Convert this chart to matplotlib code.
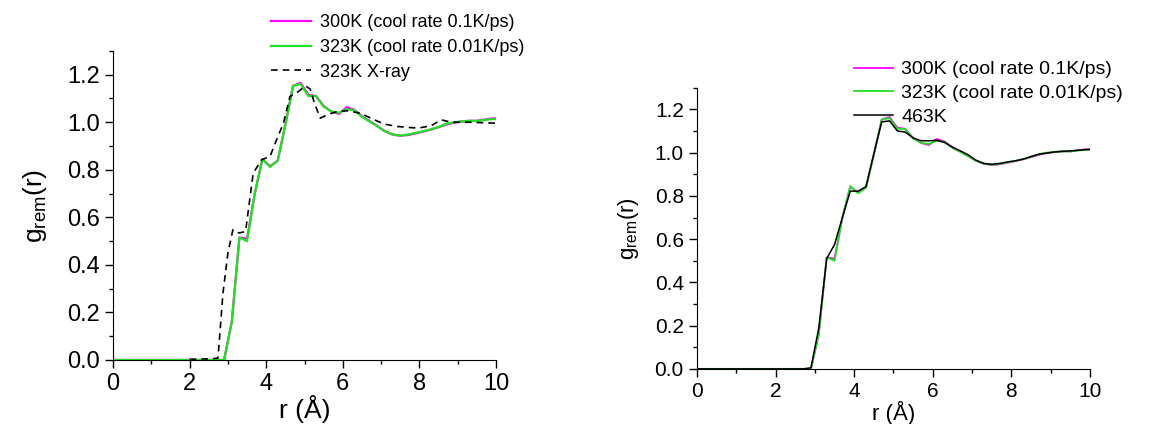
import matplotlib
matplotlib.use("Agg")
import matplotlib.pyplot as plt
from matplotlib.ticker import MultipleLocator, FormatStrFormatter

plt.rcParams['font.family'] = ['Liberation Sans', 'DejaVu Sans']
plt.rcParams['mathtext.default'] = 'regular'

# Simulated partial pair distribution (shared r grid, Å)
r_sim = [0.0, 0.5, 1.0, 1.5, 2.0, 2.5, 2.7, 2.9, 3.1, 3.3, 3.5, 3.7, 3.9, 4.1, 4.3,
         4.5, 4.7, 4.9, 5.1, 5.3, 5.5, 5.7, 5.9, 6.1, 6.3, 6.5, 6.7, 6.9, 7.1,
         7.3, 7.5, 7.7, 7.9, 8.1, 8.3, 8.5, 8.7, 8.9, 9.1, 9.3, 9.5, 9.7, 9.9, 10.0]

g_300K = [0.0, 0.0, 0.0, 0.0, 0.0, 0.0, 0.0, 0.0, 0.16, 0.515, 0.51, 0.70, 0.843, 0.815, 0.838,
          0.99, 1.153, 1.165, 1.115, 1.11, 1.068, 1.045, 1.035, 1.063, 1.052, 1.025, 1.005, 0.984, 0.962,
          0.948, 0.943, 0.946, 0.953, 0.961, 0.969, 0.979, 0.990, 0.998, 1.003, 1.006, 1.006, 1.011, 1.016, 1.016]

g_323K = [0.0, 0.0, 0.0, 0.0, 0.0, 0.0, 0.0, 0.0, 0.16, 0.515, 0.50, 0.70, 0.845, 0.812, 0.838,
          0.99, 1.153, 1.160, 1.110, 1.11, 1.065, 1.045, 1.040, 1.055, 1.050, 1.022, 1.003, 0.983, 0.962,
          0.949, 0.944, 0.948, 0.955, 0.962, 0.970, 0.980, 0.993, 1.000, 1.003, 1.006, 1.005, 1.010, 1.013, 1.013]

g_463K = [0.0, 0.0, 0.0, 0.0, 0.0, 0.0, 0.0, 0.005, 0.19, 0.51, 0.575, 0.70, 0.822, 0.822, 0.843,
          0.995, 1.142, 1.147, 1.100, 1.095, 1.068, 1.055, 1.055, 1.057, 1.047, 1.025, 1.008, 0.990, 0.965,
          0.950, 0.946, 0.950, 0.957, 0.962, 0.970, 0.982, 0.993, 0.998, 1.003, 1.006, 1.008, 1.011, 1.014, 1.015]

# X-ray derived curve at 323 K
r_xray = [2.0, 2.6, 2.74, 2.87, 3.0, 3.13, 3.29, 3.46, 3.66, 3.88, 4.1, 4.27, 4.45,
          4.62, 4.84, 5.02, 5.15, 5.26, 5.41, 5.59, 5.85, 6.11, 6.46, 6.73, 7.08,
          7.43, 7.96, 8.3, 8.57, 8.83, 9.27, 10.0]
g_xray = [0.003, 0.005, 0.008, 0.28, 0.45, 0.548, 0.534, 0.54, 0.786, 0.842, 0.856, 0.926, 0.996,
          1.108, 1.129, 1.153, 1.139, 1.08, 1.017, 1.031, 1.045, 1.048, 1.038, 1.017, 0.992,
          0.982, 0.975, 0.985, 1.01, 1.0, 1.0, 0.996]

labels = ["300K (cool rate 0.1K/ps)", "323K (cool rate 0.01K/ps)", "323K X-ray", "463K"]
MAGENTA = "#ff00ff"
GREEN = "#22e022"

fig = plt.figure(figsize=(11.57, 4.24), dpi=100)
ax1 = fig.add_axes([0.0977, 0.151, 0.331, 0.729])
ax2 = fig.add_axes([0.6024, 0.130, 0.3397, 0.663])


def style_axes(ax, fs_tick, fs_label, ypad):
    ax.set_xlim(0, 10)
    ax.set_ylim(0, 1.3)
    ax.spines['top'].set_visible(False)
    ax.spines['right'].set_visible(False)
    ax.xaxis.set_major_locator(MultipleLocator(2))
    ax.xaxis.set_minor_locator(MultipleLocator(1))
    ax.yaxis.set_major_locator(MultipleLocator(0.2))
    ax.yaxis.set_minor_locator(MultipleLocator(0.1))
    ax.yaxis.set_major_formatter(FormatStrFormatter('%.1f'))
    ax.tick_params(which='major', direction='out', length=6, width=1, labelsize=fs_tick)
    ax.tick_params(which='minor', direction='out', length=3, width=1)
    ax.set_xlabel("r (Å)", fontsize=fs_label, labelpad=0)
    ax.set_ylabel(r"g$_{rem}$(r)", fontsize=fs_label, labelpad=ypad)


# Left panel: simulations vs X-ray
ax1.plot(r_sim, g_300K, color=MAGENTA, lw=1.6, label=labels[0])
ax1.plot(r_sim, g_323K, color=GREEN, lw=1.6, label=labels[1])
ax1.plot(r_xray, g_xray, color='black', lw=1.2, ls=(0, (4, 3)), label=labels[2])
style_axes(ax1, 17, 19, 13)
ax1.legend(loc='upper left', bbox_to_anchor=(0.228, 0.983), bbox_transform=fig.transFigure,
           frameon=False, fontsize=13, handlelength=2.2, handletextpad=0.5,
           labelspacing=0.42, borderaxespad=0)

# Right panel: simulations vs 463 K
ax2.plot(r_sim, g_300K, color=MAGENTA, lw=1.3, label=labels[0])
ax2.plot(r_sim, g_323K, color=GREEN, lw=1.3, label=labels[1])
ax2.plot(r_sim, g_463K, color='black', lw=1.1, label=labels[3])
style_axes(ax2, 15, 16, 10)
ax2.legend(loc='upper left', bbox_to_anchor=(0.731, 0.875), bbox_transform=fig.transFigure,
           frameon=False, fontsize=14, handlelength=2.05, handletextpad=0.4,
           labelspacing=0.32, borderaxespad=0)

fig.savefig("out.png", dpi=100)
